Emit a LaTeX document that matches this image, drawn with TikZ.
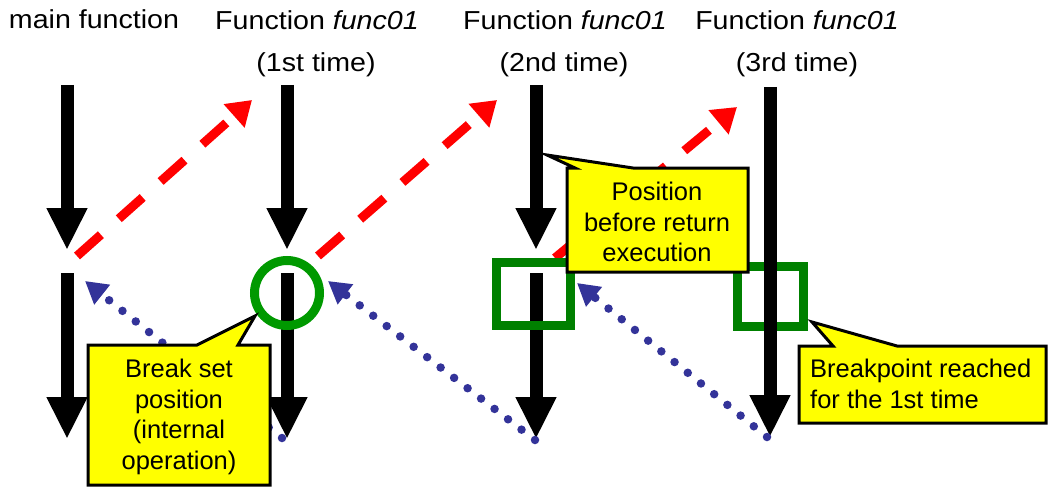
\documentclass[tikz,border=0pt]{standalone}
\usepackage{fontspec}
\setmainfont{Liberation Sans}
\newfontfamily\headfont{Liberation Sans}[FakeStretch=1.1]
\usetikzlibrary{arrows.meta}

\definecolor{callred}{RGB}{255,0,0}
\definecolor{retblue}{RGB}{51,51,153}
\definecolor{ringgreen}{RGB}{0,153,0}
\definecolor{boxgreen}{RGB}{0,128,0}
\definecolor{noteyellow}{RGB}{255,255,0}

\begin{document}
\begin{tikzpicture}[x=1pt, y=-1pt,
  flow/.style={line width=13pt, -{Triangle[width=38pt,length=42pt]}},
  call/.style={callred, line width=9pt, dash pattern=on 32pt off 24pt,
               -{Triangle[width=30pt,length=24pt]}},
  ret/.style={retblue, line width=8.5pt, line cap=round, dash pattern=on 0pt off 17pt,
              -{Triangle[width=24pt,length=22pt]}},
  note/.style={draw=black, line width=3pt, fill=noteyellow},
  notetext/.style={font=\fontsize{25.5}{30.5}\selectfont, align=center, inner sep=0pt},
  head/.style={font=\headfont\fontsize{26}{30}\selectfont, anchor=base, inner sep=0pt}]

\useasboundingbox (0,0) rectangle (1058,487);

% ============================
% Column titles
% ============================
\node[head] (tmain) at (94,29)  {main function};
\node[head] (tf1)   at (317,30) {Function \textit{func01}};
\node[head] (tf2)   at (565,30) {Function \textit{func01}};
\node[head] (tf3)   at (797,30) {Function \textit{func01}};
\node[head] (nf1)   at (316,72) {(1st time)};
\node[head] (nf2)   at (564,72) {(2nd time)};
\node[head] (nf3)   at (797,72) {(3rd time)};

% ============================
% Ends of the flow arrows
% ============================
\coordinate (mainA) at (67,85);   \coordinate (mainB) at (67,250);
\coordinate (mainC) at (67,273);  \coordinate (mainD) at (67,439);
\coordinate (f1A) at (287,85);    \coordinate (f1B) at (287,250);
\coordinate (f1C) at (287,273);   \coordinate (f1D) at (287,439);
\coordinate (f2A) at (536,85);    \coordinate (f2B) at (536,250);
\coordinate (f2C) at (536,273);   \coordinate (f2D) at (536,439);
\coordinate (f3A) at (770,87);    \coordinate (f3D) at (770,437);

% calls (up) and returns (back)
\coordinate (c1s) at (77,256);    \coordinate (c1e) at (252,100);
\coordinate (c2s) at (318,256);   \coordinate (c2e) at (497,100);
\coordinate (c3s) at (555,258);   \coordinate (c3e) at (737,107);
\coordinate (r1s) at (282,438);   \coordinate (r1e) at (85,281);
\coordinate (r2s) at (535,440);   \coordinate (r2e) at (328,281);
\coordinate (r3s) at (767,437);   \coordinate (r3e) at (577,283);

% box under the 3rd call
\draw[boxgreen, line width=9pt] (737.5,266.5) rectangle (803.5,326.5);

% ============================
% Execution flow
% ============================
\draw[flow] (mainA) -- (mainB);
\draw[flow] (mainC) -- (mainD);
\draw[flow] (f1A) -- (f1B);
\draw[flow] (f1C) -- (f1D);
\draw[flow] (f2A) -- (f2B);
\draw[flow] (f2C) -- (f2D);
\draw[flow] (f3A) -- (f3D);

\draw[call] (c1s) -- (c1e);
\draw[call] (c2s) -- (c2e);
\draw[call] (c3s) -- (c3e);

\draw[ret] (r1s) -- (r1e);
\draw[ret] (r2s) -- (r2e);
\draw[ret] (r3s) -- (r3e);

% ============================
% Marks
% ============================
\draw[ringgreen, line width=9pt] (287,293) circle (32.5);
\draw[boxgreen, line width=9pt] (496.5,262.5) rectangle (570.5,325.5);

% ============================
% Notes
% ============================
\draw[note] (88,345) -- (197,345) -- (255,316) -- (238,345) -- (270,345)
            -- (270,485) -- (88,485) -- cycle;
\node[notetext] (brk) at (179,417) {Break set\\position\\(internal\\operation)};

\draw[note] (567,168) -- (575,168) -- (547,155) -- (633,168) -- (748,168)
            -- (748,272) -- (567,272) -- cycle;
\node[notetext] (pos) at (657,222) {Position\\before return\\execution};

\draw[note] (799,346) -- (833,346) -- (812,322) -- (897,346) -- (1046,346)
            -- (1046,423) -- (799,423) -- cycle;
\node[notetext, align=left, anchor=west] (hit) at (810,384)
  {Breakpoint reached\\for the 1st time};

\end{tikzpicture}
\end{document}
